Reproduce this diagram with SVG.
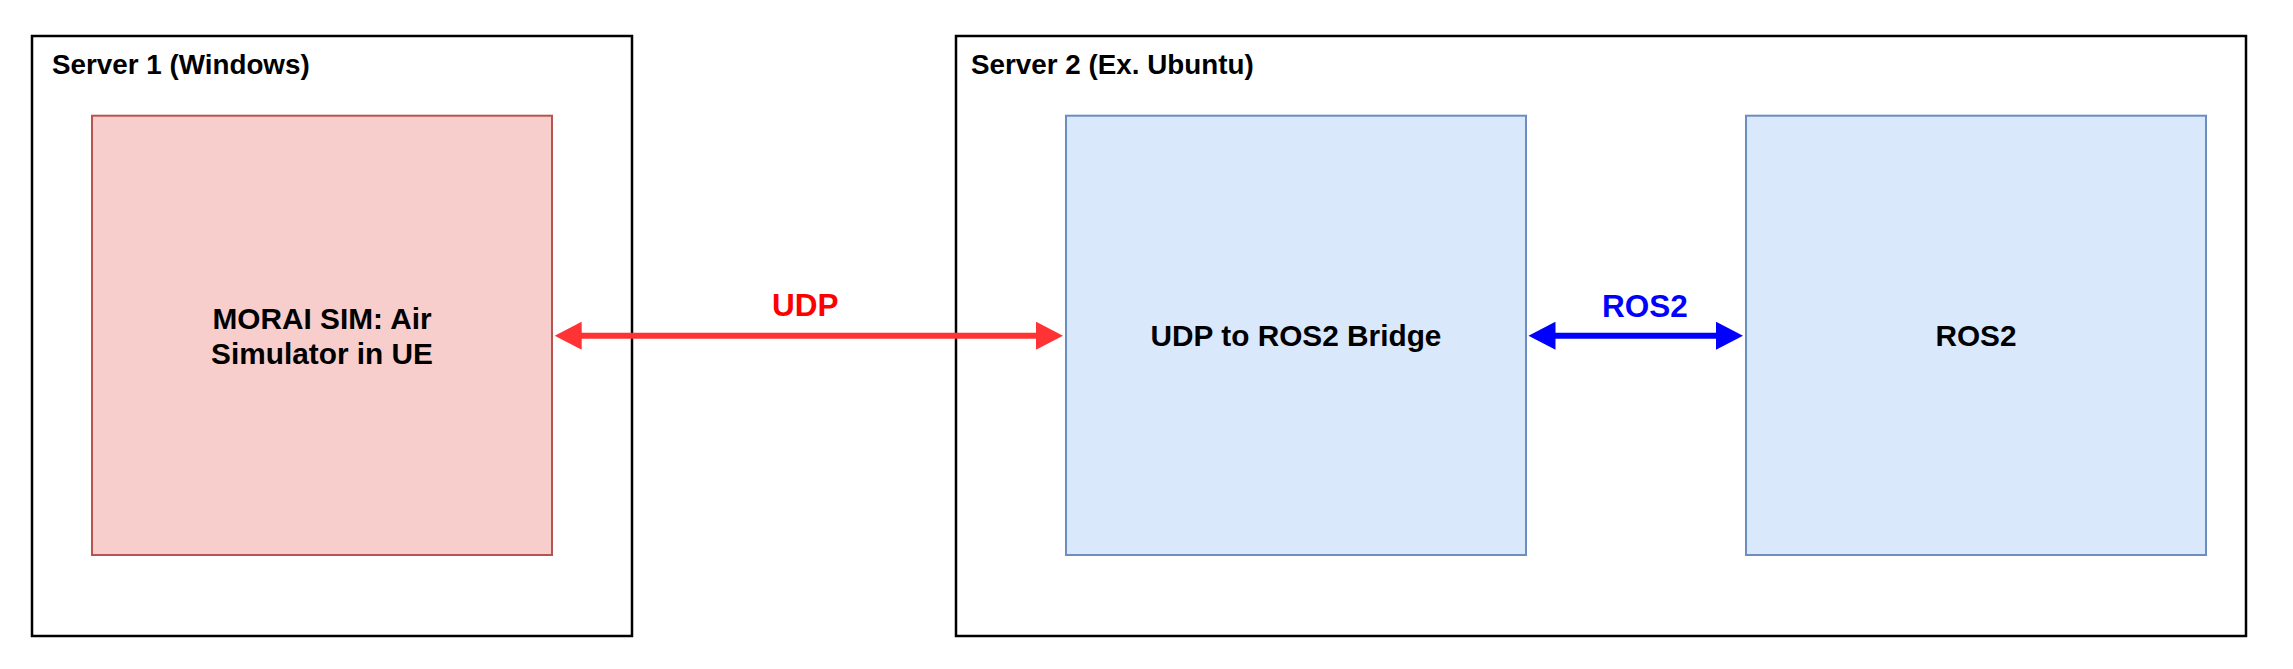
<svg xmlns="http://www.w3.org/2000/svg" width="2293" height="669" viewBox="0 0 2293 669">
  <style>
    text { font-family: "Liberation Sans", Arial, sans-serif; font-weight: bold; }
    .server { fill: #ffffff; stroke: #000000; stroke-width: 2.5; }
    .red { fill: #f8cecc; stroke: #b85450; stroke-width: 2; }
    .blue { fill: #dae8fc; stroke: #6c8ebf; stroke-width: 2; }
    .title { font-size: 27.8px; fill: #000000; }
    .label { font-size: 29.8px; fill: #000000; text-anchor: middle; }
    .elabel { font-size: 31.5px; text-anchor: middle; }
  </style>
  <defs>
    <marker id="arrRed" markerUnits="userSpaceOnUse" markerWidth="28" markerHeight="28" refX="1" refY="14" orient="auto-start-reverse" viewBox="0 0 28 28">
      <path d="M0,0 L27,14 L0,28 z" fill="#ff3333"/>
    </marker>
    <marker id="arrBlue" markerUnits="userSpaceOnUse" markerWidth="28" markerHeight="28" refX="1" refY="14" orient="auto-start-reverse" viewBox="0 0 28 28">
      <path d="M0,0 L27,14 L0,28 z" fill="#0000ff"/>
    </marker>
  </defs>
  <rect width="2293" height="669" fill="#ffffff"/>

  <g id="server1">
    <rect class="server" x="32" y="36" width="600" height="600"/>
    <text class="title" x="52" y="74.3">Server 1 (Windows)</text>
  </g>
  <g id="server2">
    <rect class="server" x="956" y="36" width="1290" height="600"/>
    <text class="title" x="971" y="74.3">Server 2 (Ex. Ubuntu)</text>
  </g>
  <g id="morai">
    <rect class="red" x="92" y="115.7" width="460" height="439.3"/>
    <text class="label" x="322" y="328.5">MORAI SIM: Air</text>
    <text class="label" x="322" y="363.5">Simulator in UE</text>
  </g>
  <g id="bridge">
    <rect class="blue" x="1066" y="115.7" width="460" height="439.3"/>
    <text class="label" x="1296" y="346.3">UDP to ROS2 Bridge</text>
  </g>
  <g id="ros2">
    <rect class="blue" x="1746" y="115.7" width="460" height="439.3"/>
    <text class="label" x="1976" y="346.3">ROS2</text>
  </g>

  <g id="connectors">
    <line x1="580.7" y1="335.7" x2="1037" y2="335.7" stroke="#ff3333" stroke-width="6" marker-start="url(#arrRed)" marker-end="url(#arrRed)"/>
    <text class="elabel" x="805.3" y="316" fill="#ff0000">UDP</text>
    <line x1="1554.5" y1="335.7" x2="1717" y2="335.7" stroke="#0000ff" stroke-width="6" marker-start="url(#arrBlue)" marker-end="url(#arrBlue)"/>
    <text class="elabel" x="1645" y="316.7" fill="#0000ff">ROS2</text>
  </g>
</svg>
